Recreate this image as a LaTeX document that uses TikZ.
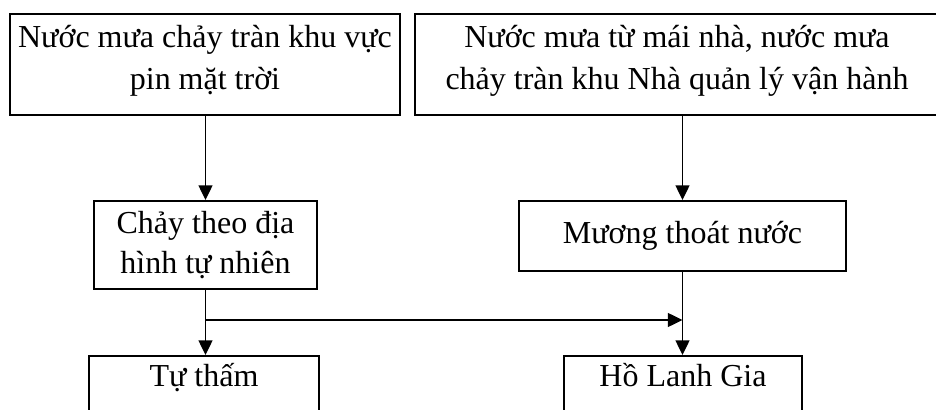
\documentclass[tikz,border=0pt]{standalone}
\usepackage{fontspec}
\setmainfont{Liberation Serif}
\usetikzlibrary{arrows.meta}
\newcommand{\lowpad}{\rule[-10.5pt]{0pt}{0pt}}
\begin{document}
\begin{tikzpicture}[x=0.75pt,y=-0.75pt,
  box/.style={draw, line width=1.5pt, align=center, inner sep=0pt},
  bigfont/.style={font=\fontsize{24pt}{31.5pt}\selectfont},
  midfont/.style={font=\fontsize{24pt}{30pt}\selectfont},
  conn/.style={line width=1pt, -{Triangle[width=10.5pt,length=11pt]}}]
\useasboundingbox (0,0) rectangle (936,410);
\clip (0,0) rectangle (936,410);
\node[box, bigfont, minimum width=292.5pt, minimum height=75.75pt] (b1) at (205,64.5)
  {Nước mưa chảy tràn khu vực\\pin mặt trời\lowpad};
\node[box, bigfont, minimum width=393pt, minimum height=75.75pt] (b2) at (677,64.5)
  {Nước mưa từ mái nhà, nước mưa\\chảy tràn khu Nhà quản lý vận hành\lowpad};
\node[box, midfont, minimum width=167.25pt, minimum height=66pt] (b3) at (205.5,245)
  {Chảy theo địa\\hình tự nhiên};
\node[box, bigfont, minimum width=245.25pt, minimum height=52.5pt] (b4) at (682.5,236)
  {Mương thoát nước};
\node[box, bigfont, anchor=north, minimum width=172.5pt, text height=22.5pt, text depth=45pt] (b5) at (204,355)
  {Tự thấm};
\node[box, bigfont, anchor=north, minimum width=178.5pt, text height=22.5pt, text depth=45pt] (b6) at (683,355)
  {Hồ Lanh Gia};
\draw[conn] (b1.south -| b3.north) -- (b3.north);
\draw[conn] (b2.south -| b4.north) -- (b4.north);
\draw[conn] (b3.south) -- (b3.south |- b5.north);
\draw[conn] (b4.south) -- (b4.south |- b6.north);
\coordinate (j1) at (b3.south |- 0,320);
\coordinate (j2) at (b4.south |- 0,320);
\draw[conn] (j1) -- (j2);
\end{tikzpicture}
\end{document}
